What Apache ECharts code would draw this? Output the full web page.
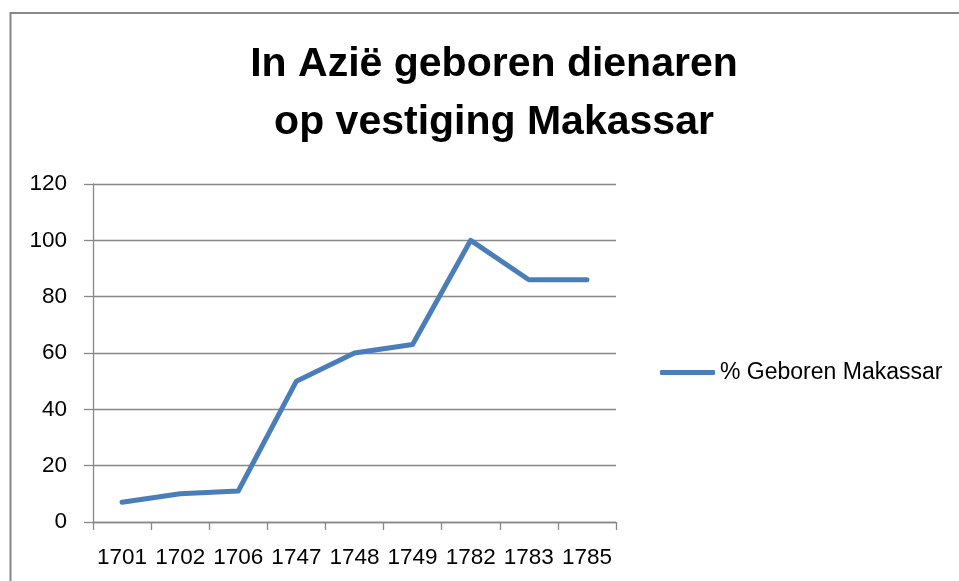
<!DOCTYPE html>
<html>
<head>
<meta charset="utf-8">
<script src="https://cdn.jsdelivr.net/npm/echarts@6/dist/echarts.min.js"></script>
<style>
  html, body { margin: 0; padding: 0; background: #fff; }
  #chart { width: 959px; height: 581px; }
</style>
</head>
<body>
<div id="chart"></div>
<script>
const years = ['1701', '1702', '1706', '1747', '1748', '1749', '1782', '1783', '1785'];
const geborenMakassar = [7, 10, 11, 50, 60, 63, 100, 86, 86];
const seriesName = '% Geboren Makassar';

const FONT = 'Liberation Sans';
const GRAY = '#888888';
const BLUE = '#4a7ebb';

const chart = echarts.init(document.getElementById('chart'));

const option = {
  animation: false,
  backgroundColor: '#fff',
  textStyle: { fontFamily: FONT },
  graphic: [
    {
      // chart frame, right and bottom sides fall outside the picture
      type: 'rect',
      shape: { x: 10.5, y: 13, width: 1000, height: 700 },
      style: { fill: 'none', stroke: GRAY, lineWidth: 2 },
      silent: true,
    },
  ],
  title: {
    text: 'In Azië geboren dienaren\nop vestiging Makassar',
    left: 489,
    top: 31,
    textAlign: 'center',
    textStyle: {
      fontFamily: FONT,
      fontWeight: 'bold',
      fontSize: 41,
      lineHeight: 58,
      color: '#000',
    },
  },
  legend: {
    data: [{ name: seriesName, icon: 'roundRect' }],
    left: 655,
    top: 356,
    itemWidth: 55,
    itemHeight: 5,
    itemStyle: { color: BLUE },
    textStyle: { fontFamily: FONT, fontSize: 23, color: '#000' },
  },
  grid: { left: 93, right: 343, top: 184, bottom: 59 },
  xAxis: {
    type: 'category',
    data: years,
    boundaryGap: true,
    axisLine: { lineStyle: { color: GRAY, width: 1.3 } },
    axisTick: { show: true, length: 8, lineStyle: { color: GRAY, width: 1.3 } },
    axisLabel: { color: '#000', fontSize: 22.5, fontFamily: FONT, margin: 24, interval: 0 },
    splitLine: { show: false },
  },
  yAxis: {
    type: 'value',
    min: 0,
    max: 120,
    interval: 20,
    axisLine: { show: true, lineStyle: { color: GRAY, width: 1.3 } },
    axisTick: { show: true, length: 9, lineStyle: { color: GRAY, width: 1.3 } },
    axisLabel: { color: '#000', fontSize: 22.5, fontFamily: FONT, margin: 26 },
    splitLine: { show: true, lineStyle: { color: GRAY, width: 1.3 } },
  },
  series: [
    {
      name: seriesName,
      type: 'line',
      data: geborenMakassar,
      showSymbol: false,
      symbol: 'none',
      color: BLUE,
      lineStyle: { color: BLUE, width: 5, cap: 'round', join: 'round' },
    },
  ],
};

chart.setOption(option);
</script>
</body>
</html>
